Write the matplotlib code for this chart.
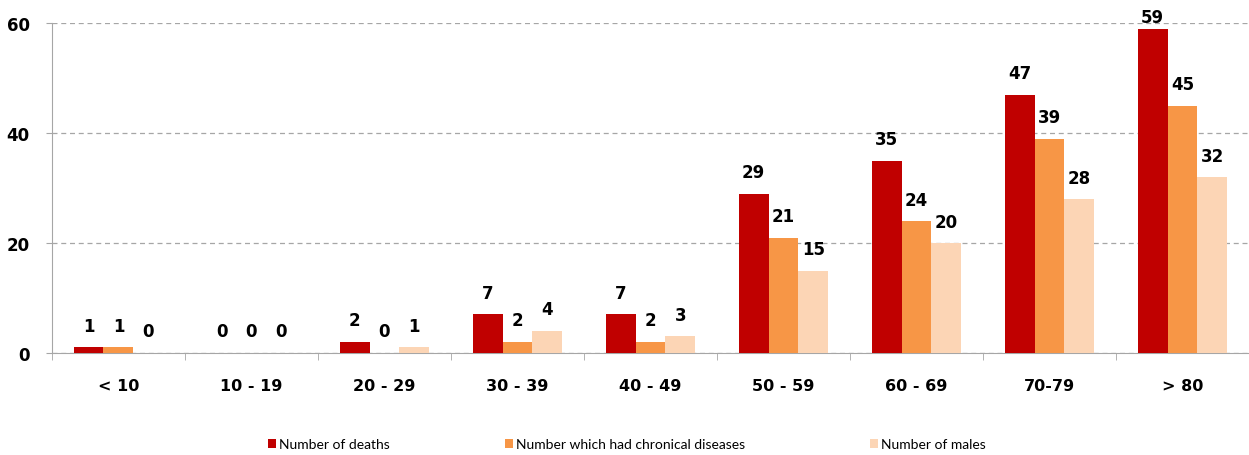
import numpy as np
import matplotlib.pyplot as plt

# Data
categories = ['< 10', '10 - 19', '20 - 29', '30 - 39', '40 - 49', '50 - 59', '60 - 69', '70-79', '> 80']
deaths = [1, 0, 2, 7, 7, 29, 35, 47, 59]
chronic = [1, 0, 0, 2, 2, 21, 24, 39, 45]
males = [0, 0, 1, 4, 3, 15, 20, 28, 32]

series = [deaths, chronic, males]
names = ['Number of deaths', 'Number which had chronical diseases', 'Number of males']
colors = ['#C00000', '#F79646', '#FCD5B5']

fig = plt.figure(figsize=(12.49, 4.56), dpi=100)
ax = fig.add_axes([0.0416, 0.2237, 0.9584, 0.7236])

x = np.arange(len(categories))
w = 0.225
handles = []
for i, (vals, name, c) in enumerate(zip(series, names, colors)):
    pos = x + (i - 1) * w
    b = ax.bar(pos, vals, w, color=c, label=name, zorder=3)
    handles.append(b)
    for p, v in zip(pos, vals):
        # labels near the top get pushed down into the plot area
        off = 2 if v > 55 else 9
        ax.annotate(str(v), (p, v), xytext=(0, off), textcoords='offset points',
                    ha='center', va='bottom', fontsize=12, fontweight='bold')

ax.set_xlim(-0.5, len(categories) - 0.5)
ax.set_ylim(0, 60)
ax.set_yticks([0, 20, 40, 60])
ax.tick_params(axis='y', labelsize=12, length=4, color='#A6A6A6', pad=12)
for t in ax.get_yticklabels():
    t.set_fontweight('bold')

ax.set_xticks(x)
ax.set_xticklabels(categories, fontsize=11.5, fontweight='bold')
ax.set_xticks(np.arange(-0.5, len(categories)), minor=True)
ax.tick_params(axis='x', which='major', length=0, pad=18)
ax.tick_params(axis='x', which='minor', length=5, color='#A6A6A6')

ax.yaxis.grid(True, linestyle=(0, (4, 3)), color='#A6A6A6', linewidth=0.9, zorder=0)
for s in ['top', 'right']:
    ax.spines[s].set_visible(False)
for s in ['left', 'bottom']:
    ax.spines[s].set_color('#A6A6A6')

# legend entries placed individually, like the spread-out original
legend_x = [268 / 1249, 505 / 1249, 870 / 1249]
for h, name, lx in zip(handles, names, legend_x):
    fig.legend([h], [name], loc='center left', bbox_to_anchor=(lx, 0.024),
               frameon=False, handlelength=0.6, handleheight=0.6,
               handletextpad=0.2, borderpad=0, borderaxespad=0,
               prop={'family': 'Lato', 'size': 10})

fig.savefig('out.png', dpi=100)
